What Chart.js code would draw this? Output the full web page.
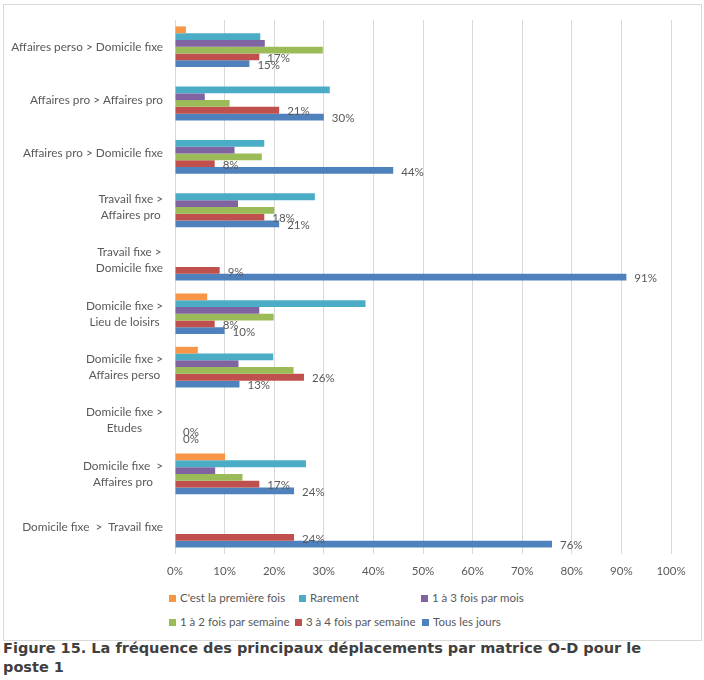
<!DOCTYPE html>
<html>
<head>
<meta charset="utf-8">
<script src="https://cdn.jsdelivr.net/npm/chart.js@4/dist/chart.umd.min.js"></script>
<style>
body{margin:0;background:#fff;position:relative;width:704px;height:680px;overflow:hidden}
#frame{position:absolute;left:3px;top:4px;width:697px;height:635px;border:1px solid #d9d9d9}
#c{position:absolute;left:0;top:0}
.lg{position:absolute;font:11.5px Lato,sans-serif;color:#595959;white-space:nowrap;line-height:14px}
.lg i{display:inline-block;width:7px;height:7px;margin-right:4px;vertical-align:0px}
#cap{position:absolute;left:3px;top:639px;font:bold 14.5px "DejaVu Sans",sans-serif;color:#404040;line-height:19px;white-space:nowrap}
</style>
</head>
<body>
<div id="frame"></div>
<canvas id="c" width="704" height="584"></canvas>
<div id="legend"></div>
<div id="cap">Figure 15. La fréquence des principaux déplacements par matrice O-D pour le<br>poste 1</div>
<script>
// categories, top to bottom
let categories=[
["Affaires perso > Domicile fixe"],
["Affaires pro > Affaires pro"],
["Affaires pro > Domicile fixe"],
["Travail fixe >","Affaires pro"],
["Travail fixe >","Domicile fixe"],
["Domicile fixe >","Lieu de loisirs"],
["Domicile fixe >","Affaires perso"],
["Domicile fixe >","Etudes"],
["Domicile fixe  >","Affaires pro"],
["Domicile fixe  >  Travail fixe"]
]

let seriesNames=["C'est la première fois","Rarement","1 à 3 fois par mois","1 à 2 fois par semaine","3 à 4 fois par semaine","Tous les jours"]
let colors=["#F79646","#4BACC6","#8064A2","#9BBB59","#C0504D","#4F81BD"]

// values in %
let premiere=[2.2,0,0,0,0,6.5,4.6,0,10.1,0]
let rarement=[17.2,31.2,18,28.2,0,38.4,19.8,0,26.4,0]
let unTroisMois=[18.1,6,12,12.7,0,17,12.8,0,8.1,0]
let unDeuxSemaine=[29.8,11,17.5,20,0,19.9,23.9,0,13.6,0]
let troisQuatreSemaine=[17,21,8,18,9,8,26,0,17,24]
let tousLesJours=[15,30,44,21,91,10,13,0,24,76]

let xTicks=[0,10,20,30,40,50,60,70,80,90,100]

let labelledSeries=[4,5]

let allSeries=[premiere,rarement,unTroisMois,unDeuxSemaine,troisQuatreSemaine,tousLesJours]

let textColor="#595959"
let font="Lato, sans-serif"

// y labels drawn centered per block, block right aligned
let yLabels={
id:"yLabels",
afterDraw(ch){
let ctx=ch.ctx
let ys=ch.scales.y
ctx.save()
ctx.font="11.8px "+font
ctx.fillStyle=textColor
ctx.textBaseline="middle"
ctx.textAlign="center"
categories.forEach((lines,i)=>{
let cy=ys.getPixelForValue(i)
let w=Math.max(...lines.map(l=>ctx.measureText(l).width))
let right=ch.chartArea.left-12
let lh=16
lines.forEach((l,j)=>{
ctx.fillText(l,right-w/2,cy+(j-(lines.length-1)/2)*lh)
})
})
ctx.restore()
}
}

let dataLabels={
id:"dataLabels",
afterDatasetsDraw(ch){
let ctx=ch.ctx
ctx.save()
ctx.font="11.5px "+font
ctx.fillStyle=textColor
ctx.textBaseline="middle"
ctx.textAlign="left"
labelledSeries.forEach(di=>{
ch.getDatasetMeta(di).data.forEach((el,i)=>{
let v=ch.data.datasets[di].data[i]
ctx.fillText(Math.round(v)+"%",el.x+8,el.y+1.5)
})
})
ctx.restore()
}
}

new Chart(document.getElementById("c"),{
type:"bar",
data:{
labels:categories.map(c=>c.join(" ")),
datasets:seriesNames.map((n,i)=>({
label:n,
data:allSeries[i],
backgroundColor:colors[i],
borderWidth:0,
categoryPercentage:0.76,
barPercentage:1
}))
},
options:{
indexAxis:"y",
responsive:false,
animation:false,
layout:{padding:{left:175,right:33,top:20,bottom:0}},
plugins:{legend:{display:false},tooltip:{enabled:false}},
scales:{
x:{
min:0,max:100,
afterBuildTicks:s=>{s.ticks=xTicks.map(v=>({value:v}))},
afterFit:s=>{s.height=30},
grid:{color:"#d9d9d9",drawTicks:false},
border:{display:false},
ticks:{padding:10,color:textColor,font:{family:font,size:11.5},callback:v=>v+"%"}
},
y:{display:false}
}
},
plugins:[yLabels,dataLabels]
})

// legend
let legendPos=[[169,598],[299,598],[421,598],[169,622],[295,622],[422,622]]
let lg=document.getElementById("legend")
seriesNames.forEach((n,i)=>{
let d=document.createElement("div")
d.className="lg"
d.style.left=legendPos[i][0]+"px"
d.style.top=(legendPos[i][1]-7)+"px"
d.innerHTML='<i style="background:'+colors[i]+'"></i>'+n
lg.appendChild(d)
})
</script>
</body>
</html>
